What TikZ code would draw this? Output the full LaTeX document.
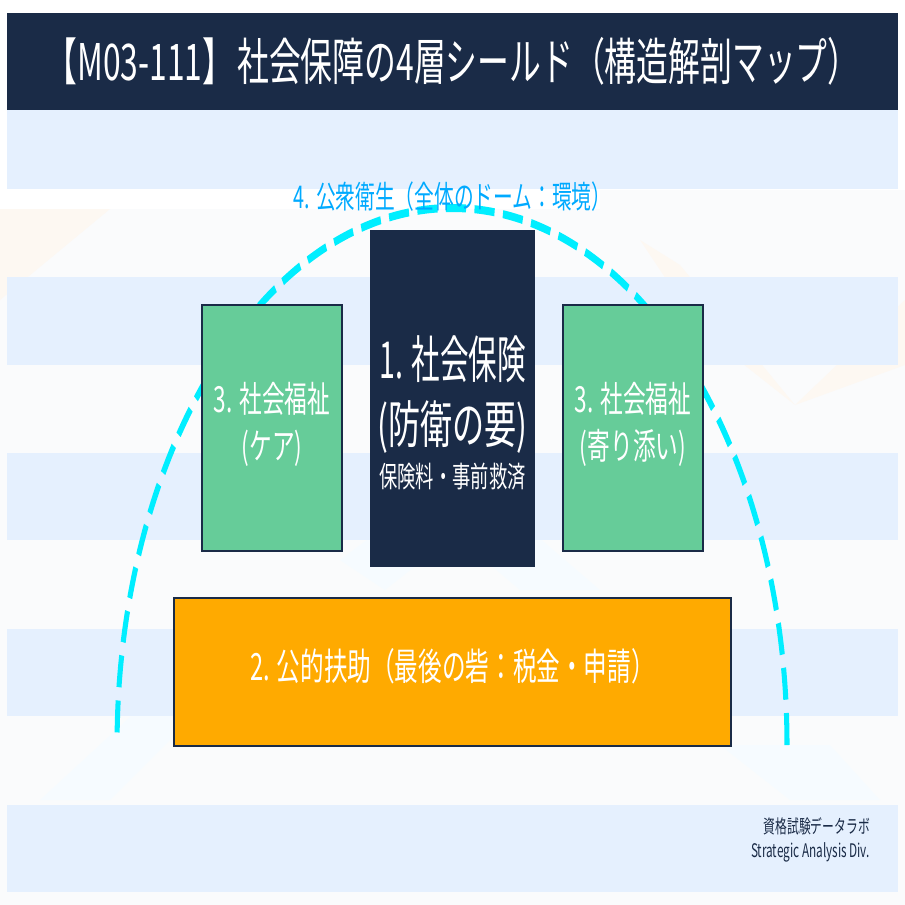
\documentclass[tikz,border=0pt]{standalone}
\usepackage{fontspec}
\setmainfont{Noto Sans CJK JP}[FakeStretch=0.63]
\newfontfamily\tallfont{Noto Sans CJK JP}[FakeStretch=0.56]
\definecolor{navy}{HTML}{1A2B47}
\definecolor{bandblue}{HTML}{E5F0FE}
\definecolor{basepale}{HTML}{FAFBFC}
\definecolor{paleorange}{HTML}{FDF8F2}
\definecolor{paleblue}{HTML}{F6FBFF}
\definecolor{greenbox}{HTML}{66CC99}
\definecolor{orangebox}{HTML}{FFAA00}
\definecolor{domecyan}{HTML}{00EEFF}
\definecolor{domelabel}{HTML}{00AAFF}
\tikzset{
  band/.style={fill=bandblue,draw=none},
  block/.style={draw=navy,line width=2.4pt,inner sep=0pt,outer sep=0pt,align=center,text=white,anchor=north west},
  dome/.style={draw=domecyan,line width=8pt,dash pattern=on 32pt off 13.4pt,transform canvas={xscale=0.63}}
}
\begin{document}
\begin{tikzpicture}[x=1pt,y=-1pt]
\useasboundingbox (0,0) rectangle (905,905);
\fill[white] (0,0) rectangle (905,905);
% pale background and chevrons
\fill[basepale] (0,209) -- (600,209) -- (600,190) -- (905,190) -- (905,905) -- (0,905) -- cycle;
\fill[paleorange] (0,209) -- (110,209) -- (0,300) -- cycle;
\fill[paleorange] (640,240) -- (680,265) -- (795,405) -- (905,300) -- (905,365) -- (795,405) -- (700,330) -- cycle;
\fill[paleblue] (340,560) -- (460,470) -- (600,590) -- (520,590) -- (455,535) -- (385,590) -- cycle;
\fill[paleblue] (40,800) -- (170,680) -- (170,740) -- (110,800) -- cycle;
\fill[paleblue] (720,745) -- (830,745) -- (880,800) -- (790,800) -- cycle;
% bands
\fill[band] (7,110) rectangle (898,189);
\fill[band] (7,277) rectangle (898,365);
\fill[band] (7,453) rectangle (898,540);
\fill[band] (7,629) rectangle (898,716);
\fill[band] (7,805) rectangle (898,892);
% header
\node[fill=navy,draw=none,minimum width=891pt,minimum height=97pt,inner sep=0pt,outer sep=0pt,text=white,font=\fontsize{50.5}{52}\selectfont,anchor=north west] (header) at (7,13) {【M03-111】\hspace{3pt}社会保障の4層シールド（構造解剖マップ）};
% dome
\coordinate (domeR) at (1249.2,745);
\draw[dome] (domeR) arc[start angle=0,end angle=180,x radius=531.7pt,y radius=537pt];
\node[text=domelabel,font=\fontsize{31.3}{34}\selectfont,inner sep=0pt] (domelbl) at (452.5,197) {4. 公衆衛生（全体のドーム：環境）};
% blocks
\node[block,fill=greenbox,minimum width=140pt,minimum height=246pt,font=\fontsize{36}{47}\selectfont] (welfareL) at (202,305) {3. 社会福祉\\(ケア)\rule[-14pt]{0pt}{1pt}};
\node[block,fill=greenbox,minimum width=140pt,minimum height=246pt,font=\fontsize{36}{47}\selectfont] (welfareR) at (563,305) {3. 社会福祉\\(寄り添い)\rule[-14pt]{0pt}{1pt}};
\node[block,fill=navy,draw=none,minimum width=165pt,minimum height=337pt] (insurance) at (370,230) {};
\node[text=white,align=center,inner sep=0pt] (insurancetxt) at (452.5,413) {\tallfont\fontsize{51}{60}\selectfont 1. 社会保険\\[17pt]\fontsize{51}{60}\selectfont (防衛の要)\\[9pt]\rmfamily\fontsize{29}{34}\selectfont 保険料・事前救済};
\node[block,fill=orangebox,minimum width=557pt,minimum height=148pt,font=\fontsize{37.5}{42}\selectfont] (assist) at (174,598) {2. 公的扶助（最後の砦：税金・申請）\rule[-16pt]{0pt}{1pt}};
% credit
\node[text=navy,font=\fontsize{18.7}{24}\selectfont,align=right,anchor=north east,inner sep=0pt] (credit) at (870,817) {資格試験データラボ\\Strategic Analysis Div.};
\end{tikzpicture}
\end{document}
